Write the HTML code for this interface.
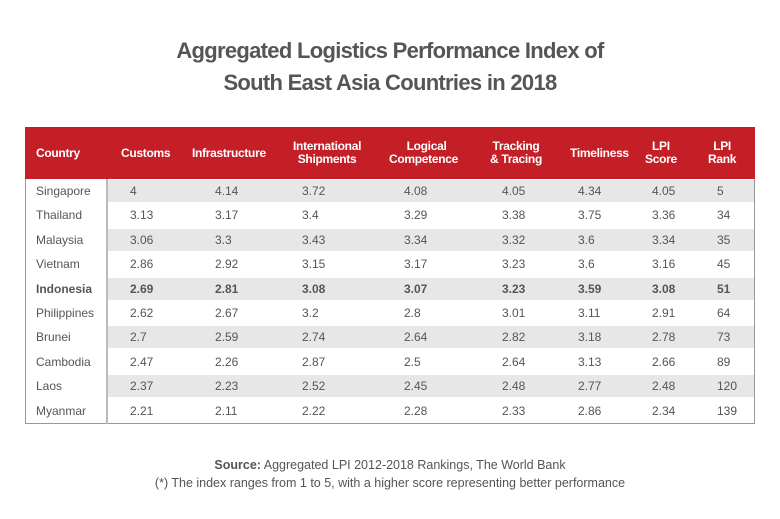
<!DOCTYPE html>
<html><head><meta charset="utf-8"><style>
body{margin:0;width:780px;height:519px;background:#fff;position:relative;font-family:"Liberation Sans",Arial,sans-serif;overflow:hidden}
.t{position:absolute;left:0;width:780px;text-align:center;color:#555;font-weight:bold;font-size:22px;letter-spacing:-0.7px}
.box{position:absolute;left:25px;top:127px;width:728px;height:296px;border:1px solid #999;border-top:none}
.hdr{position:absolute;left:25px;top:127px;width:730px;height:52px;background:#c41f27}
.h{position:absolute;color:#fff;font-weight:bold;font-size:12px;line-height:13px;letter-spacing:-0.3px}
.band{position:absolute;left:107px;width:647px;height:22px;background:#e6e7e9}
.vl{position:absolute;left:106px;top:179px;width:2px;height:245px;background:#bbb}
.c{position:absolute;font-size:12px;color:#555;line-height:14px}
.b{font-weight:bold}
.f{position:absolute;left:0;width:780px;text-align:center;color:#555;font-size:12.5px}
</style></head><body>
<div class="t" style="top:38px">Aggregated Logistics Performance Index of</div>
<div class="t" style="top:70px">South East Asia Countries in 2018</div>
<div class="box"></div>
<div class="hdr"></div>
<div class="h" style="left:36px;top:147px">Country</div>
<div class="h" style="left:121px;top:147px">Customs</div>
<div class="h" style="left:192px;top:147px">Infrastructure</div>
<div class="h" style="left:293px;top:140px;text-align:center">International<br>Shipments</div>
<div class="h" style="left:389px;top:140px;text-align:center">&nbsp;&nbsp;Logical<br>Competence</div>
<div class="h" style="left:490px;top:140px;text-align:center">Tracking<br>&amp; Tracing</div>
<div class="h" style="left:570px;top:147px">Timeliness</div>
<div class="h" style="left:645px;top:140px;text-align:center">LPI<br>Score</div>
<div class="h" style="left:708px;top:140px;text-align:center">LPI<br>Rank</div>
<div id="rows"></div>
<div class="vl"></div>
<div class="f" style="top:458px"><b>Source:</b> Aggregated LPI 2012-2018 Rankings, The World Bank</div>
<div class="f" style="top:476px">(*) The index ranges from 1 to 5, with a higher score representing better performance</div>
<script>
var d=[["Singapore","4","4.14","3.72","4.08","4.05","4.34","4.05","5"],
["Thailand","3.13","3.17","3.4","3.29","3.38","3.75","3.36","34"],
["Malaysia","3.06","3.3","3.43","3.34","3.32","3.6","3.34","35"],
["Vietnam","2.86","2.92","3.15","3.17","3.23","3.6","3.16","45"],
["Indonesia","2.69","2.81","3.08","3.07","3.23","3.59","3.08","51"],
["Philippines","2.62","2.67","3.2","2.8","3.01","3.11","2.91","64"],
["Brunei","2.7","2.59","2.74","2.64","2.82","3.18","2.78","73"],
["Cambodia","2.47","2.26","2.87","2.5","2.64","3.13","2.66","89"],
["Laos","2.37","2.23","2.52","2.45","2.48","2.77","2.48","120"],
["Myanmar","2.21","2.11","2.22","2.28","2.33","2.86","2.34","139"]];
var xs=[36,130,215,302,404,502,578,652,717],h="";
d.forEach(function(r,i){var cy=191+i*24.4;
if(i%2==0)h+='<div class="band" style="top:'+(cy-11)+'px"></div>';
r.forEach(function(v,j){h+='<div class="c'+(i==4?' b':'')+'" style="left:'+xs[j]+'px;top:'+(cy-7)+'px">'+v+'</div>';});});
document.getElementById("rows").innerHTML=h;
</script>
</body></html>
